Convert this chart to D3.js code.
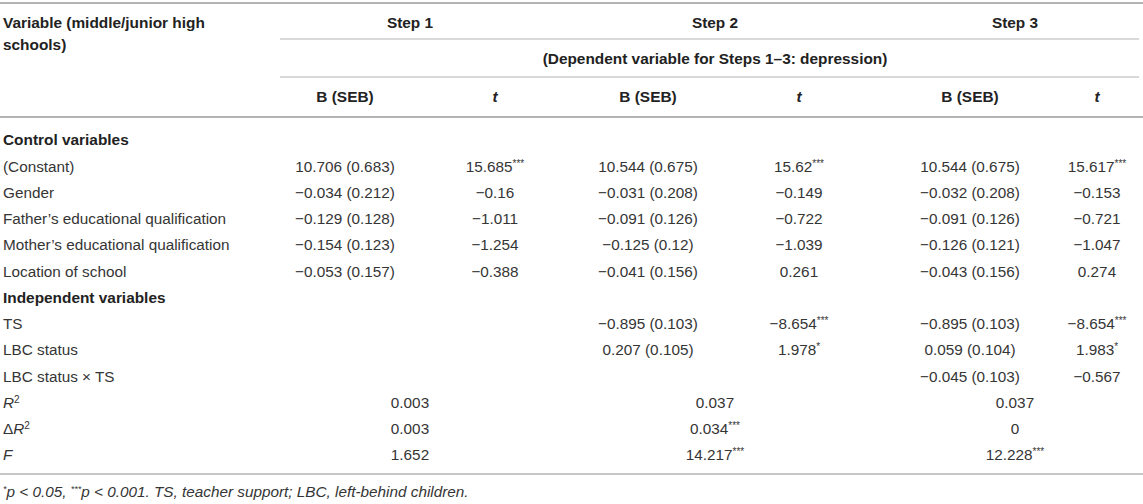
<!DOCTYPE html>
<html>
<head>
<meta charset="utf-8">
<script src="https://cdn.jsdelivr.net/npm/d3@7/dist/d3.min.js"></script>
<style>
  body { margin: 0; background: #fff; }
  svg { display: block; font-family: "Liberation Sans", Arial, sans-serif; }
  .hd { font-weight: bold; fill: #222; font-size: 15.4px; }
  .bd { fill: #353535; font-size: 15.3px; }
  .sec { font-weight: bold; fill: #222; font-size: 15.4px; }
  .rule { stroke: #b4b4b4; }
</style>
</head>
<body>
<svg id="table"></svg>
<script>
/* row labels, top to bottom (body of the table) */
var rowLabels = ["Control variables", "(Constant)", "Gender", "Father\u2019s educational qualification",
  "Mother\u2019s educational qualification", "Location of school", "Independent variables",
  "TS", "LBC status", "LBC status \u00d7 TS", "R2", "\u0394R2", "F"];
var sectionRows = [0, 6];
var predictorRows = [1, 2, 3, 4, 5, 7, 8, 9];

var steps = ["Step 1", "Step 2", "Step 3"];
var subHeader = "(Dependent variable for Steps 1\u20133: depression)";

/* coefficient B, standard error, t and significance per predictor row */
var step1B   = [10.706, -0.034, -0.129, -0.154, -0.053, null, null, null];
var step1SE  = [0.683, 0.212, 0.128, 0.123, 0.157, null, null, null];
var step1T   = [15.685, -0.16, -1.011, -1.254, -0.388, null, null, null];
var step1Sig = ["***", "", "", "", "", "", "", ""];

var step2B   = [10.544, -0.031, -0.091, -0.125, -0.041, -0.895, 0.207, null];
var step2SE  = [0.675, 0.208, 0.126, 0.12, 0.156, 0.103, 0.105, null];
var step2T   = [15.62, -0.149, -0.722, -1.039, 0.261, -8.654, 1.978, null];
var step2Sig = ["***", "", "", "", "", "***", "*", ""];

var step3B   = [10.544, -0.032, -0.091, -0.126, -0.043, -0.895, 0.059, -0.045];
var step3SE  = [0.675, 0.208, 0.126, 0.121, 0.156, 0.103, 0.104, 0.103];
var step3T   = [15.617, -0.153, -0.721, -1.047, 0.274, -8.654, 1.983, -0.567];
var step3Sig = ["***", "", "", "", "", "***", "*", ""];

/* model summary per step */
var rSquared   = [0.003, 0.037, 0.037];
var rSquaredSig = ["", "", ""];
var deltaR2    = [0.003, 0.034, 0];
var deltaR2Sig = ["", "***", ""];
var fValue     = [1.652, 14.217, 12.228];
var fSig       = ["", "***", "***"];

var footnote = [["*", true], ["p < 0.05, ", false], ["***", true], ["p < 0.001. TS, teacher support; LBC, left-behind children.", false]];

var width = 1143, height = 504;
var svg = d3.select("#table").attr("width", width).attr("height", height);

function fmt(v) {
  return String(v).replace("-", "\u2212");
}

/* scales */
var colKeys = ["b1", "t1", "b2", "t2", "b3", "t3"];
var xCol = d3.scaleOrdinal().domain(colKeys).range([345, 495, 648, 799, 970, 1097]);
var xStep = d3.scaleOrdinal().domain(steps).range([410, 715, 1015]);
var yRow = d3.scaleLinear().domain([0, rowLabels.length - 1]).range([140, 455]);
var yHead = d3.scaleOrdinal().domain(["step", "dep", "col"]).range([23, 59, 97]);
var xLeft = 3;
var xGroupStart = 280;

/* rules */
var rules = [
  { x1: 0, x2: width, y: 3, w: 2 },
  { x1: xGroupStart, x2: width - 4, y: 39, w: 1.2 },
  { x1: xGroupStart, x2: width - 4, y: 77, w: 1.2 },
  { x1: 0, x2: width, y: 117, w: 2 },
  { x1: 0, x2: width, y: 474, w: 1.5 }
];
svg.selectAll("line.rule").data(rules).enter().append("line")
  .attr("class", "rule")
  .attr("x1", function(d) { return d.x1; })
  .attr("x2", function(d) { return d.x2; })
  .attr("y1", function(d) { return d.y; })
  .attr("y2", function(d) { return d.y; })
  .attr("stroke-width", function(d) { return d.w; });

/* header */
svg.append("text").attr("class", "hd").attr("x", xLeft).attr("y", 23).attr("dy", "0.35em")
  .text("Variable (middle/junior high");
svg.append("text").attr("class", "hd").attr("x", xLeft).attr("y", 45).attr("dy", "0.35em").text("schools)");

svg.selectAll("text.step").data(steps).enter().append("text")
  .attr("class", "hd step")
  .attr("x", function(d) { return xStep(d); })
  .attr("y", yHead("step")).attr("dy", "0.35em")
  .attr("text-anchor", "middle")
  .text(function(d) { return d; });

svg.append("text").attr("class", "hd")
  .attr("x", xStep("Step 2")).attr("y", yHead("dep")).attr("dy", "0.35em")
  .attr("text-anchor", "middle").text(subHeader);

svg.selectAll("text.colhead").data(colKeys).enter().append("text")
  .attr("class", "hd colhead")
  .attr("x", function(d) { return xCol(d); })
  .attr("y", yHead("col")).attr("dy", "0.35em")
  .attr("text-anchor", "middle")
  .style("font-style", function(d) { return d.charAt(0) === "t" ? "italic" : "normal"; })
  .text(function(d) { return d.charAt(0) === "t" ? "t" : "B (SEB)"; });

/* row labels */
var lab = svg.selectAll("text.lab").data(rowLabels).enter().append("text")
  .attr("class", function(d, i) { return sectionRows.indexOf(i) >= 0 ? "sec lab" : "bd lab"; })
  .attr("x", xLeft)
  .attr("y", function(d, i) { return yRow(i); })
  .attr("dy", "0.35em");
lab.each(function(d) {
  var t = d3.select(this);
  if (d === "R2" || d === "\u0394R2") {
    if (d.charAt(0) === "\u0394") t.append("tspan").text("\u0394");
    t.append("tspan").style("font-style", "italic").text("R");
    t.append("tspan").attr("font-size", "10px").attr("baseline-shift", "super").text("2");
  } else if (d === "F") {
    t.append("tspan").style("font-style", "italic").text("F");
  } else {
    t.text(d);
  }
});

/* cell helper: value with superscript stars */
function cell(x, y, main, sig) {
  var t = svg.append("text").attr("class", "bd")
    .attr("x", x).attr("y", y).attr("dy", "0.35em")
    .attr("text-anchor", "middle");
  t.append("tspan").text(main);
  if (sig) t.append("tspan").attr("font-size", "10px").attr("baseline-shift", "super").text(sig);
}

var stepData = [
  { b: step1B, se: step1SE, t: step1T, sig: step1Sig, kb: "b1", kt: "t1" },
  { b: step2B, se: step2SE, t: step2T, sig: step2Sig, kb: "b2", kt: "t2" },
  { b: step3B, se: step3SE, t: step3T, sig: step3Sig, kb: "b3", kt: "t3" }
];
stepData.forEach(function(s) {
  predictorRows.forEach(function(r, i) {
    if (s.b[i] === null) return;
    cell(xCol(s.kb), yRow(r), fmt(s.b[i]) + " (" + fmt(s.se[i]) + ")", "");
    cell(xCol(s.kt), yRow(r), fmt(s.t[i]), s.sig[i]);
  });
});

/* model summary rows */
var summary = [
  { row: 10, v: rSquared, sig: rSquaredSig },
  { row: 11, v: deltaR2, sig: deltaR2Sig },
  { row: 12, v: fValue, sig: fSig }
];
summary.forEach(function(s) {
  steps.forEach(function(st, j) {
    cell(xStep(st), yRow(s.row), fmt(s.v[j]), s.sig[j]);
  });
});

/* footnote */
var fn = svg.append("text").attr("class", "bd")
  .attr("x", xLeft).attr("y", 492).attr("dy", "0.35em")
  .style("font-style", "italic").attr("font-size", "13.7px");
footnote.forEach(function(p) {
  var ts = fn.append("tspan").text(p[0]);
  if (p[1]) ts.attr("font-size", "9px").attr("baseline-shift", "super");
});
</script>
</body>
</html>
